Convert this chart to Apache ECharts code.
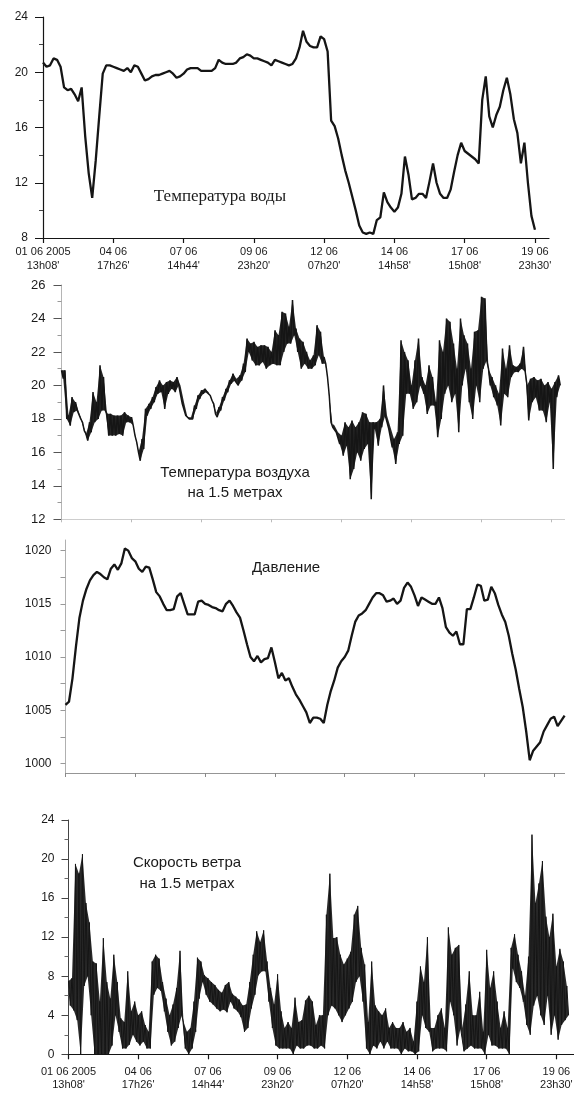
<!DOCTYPE html>
<html>
<head>
<meta charset="utf-8">
<script src="https://cdn.jsdelivr.net/npm/echarts@6/dist/echarts.min.js"></script>
<style>
html,body{margin:0;padding:0;background:#fff;}
#chart{width:574px;height:1093px;}
</style>
</head>
<body>
<div id="chart"></div>
<script>
// ---- tick labels (x axis positions 0..7) ----
const xTickLabels = ["01 06 2005\n13h08'", "04 06\n17h26'", "07 06\n14h44'", "09 06\n23h20'", "12 06\n07h20'", "14 06\n14h58'", "17 06\n15h08'", "19 06\n23h30'"];
const xTickValues = [0, 1, 2, 3, 4, 5, 6, 7];

// ---- series values, sampled every 0.05 tick-interval ----
const step = 0.05;
const waterTemp = [
20.7,20.4,20.5,21.0,20.9,20.4,18.9,18.7,18.8,18.4,
17.9,18.9,15.4,12.7,10.9,13.6,16.8,19.9,20.5,20.5,
20.4,20.3,20.2,20.1,20.3,20.0,20.5,20.4,19.9,19.4,
19.5,19.7,19.8,19.8,19.9,20.0,20.1,19.9,19.6,19.7,
19.9,20.2,20.3,20.3,20.3,20.1,20.1,20.1,20.1,20.3,
20.9,20.7,20.6,20.6,20.6,20.7,21.0,21.1,21.3,21.2,
21.0,21.0,20.9,20.8,20.7,20.5,20.9,20.8,20.7,20.6,
20.5,20.6,21.0,21.8,23.0,22.2,21.9,21.8,21.8,22.6,
22.4,21.5,16.5,16.1,15.2,14.0,12.9,12.0,11.0,10.0,
8.9,8.4,8.3,8.4,8.3,9.3,9.5,11.3,10.6,10.2,
9.9,10.2,11.2,13.9,12.6,10.8,10.9,11.2,11.2,10.9,
12.1,13.4,12.0,11.2,10.9,10.9,11.5,12.8,14.0,14.9,
14.3,14.1,13.9,13.7,13.4,18.0,19.7,16.8,16.0,16.9,
17.5,18.7,19.6,18.4,16.6,15.6,13.4,14.9,12.0,9.6,
8.6
];
// air temperature: upper and lower readings of the noisy trace at each step
const airHigh = [
20.9,20.9,18.2,19.3,19.0,18.4,17.8,17.1,17.8,19.6,
19.0,21.2,20.5,18.3,18.3,18.2,18.2,18.2,18.4,18.2,
18.1,17.0,16.0,16.8,18.6,18.9,19.3,19.9,20.3,20.0,
20.2,20.3,20.2,20.5,20.0,19.0,18.1,18.1,18.8,19.4,
19.7,19.8,19.6,19.1,18.3,18.7,19.3,19.8,20.3,20.7,
20.4,20.6,21.3,22.8,22.5,22.6,22.3,22.4,22.4,22.3,
22.0,23.3,23.0,24.4,24.3,23.5,25.1,23.4,22.8,22.6,
22.0,21.5,21.8,23.6,23.2,21.7,20.5,17.8,17.6,17.2,
17.0,17.8,17.5,17.9,17.5,17.8,18.4,18.3,17.8,17.8,
17.8,18.0,20.0,18.2,17.5,16.8,17.2,22.7,22.0,21.5,
20.0,21.5,22.8,20.5,20.0,21.2,20.5,19.0,22.7,22.0,
24.0,23.8,22.5,21.0,24.0,23.0,22.5,21.0,23.2,23.3,
25.3,25.2,21.0,20.5,20.0,19.5,22.2,21.0,22.4,21.2,
21.1,21.3,22.3,20.0,20.4,20.5,20.3,20.4,20.0,20.2,
19.8,20.2,20.6
];
const airLow = [
20.4,18.0,17.6,18.4,18.5,18.0,17.3,16.7,17.2,17.8,
18.0,18.5,18.5,17.0,17.0,17.0,17.1,17.0,17.8,17.8,
17.6,16.6,15.5,16.2,18.2,18.6,19.0,19.5,19.6,18.6,
19.5,19.8,19.6,20.0,18.9,18.2,18.0,18.0,18.6,19.2,
19.5,19.6,19.4,18.9,18.1,18.5,19.1,19.6,20.1,20.3,
20.0,20.3,20.8,22.0,21.5,21.2,21.2,21.4,21.0,21.2,
21.3,21.2,21.2,22.0,22.5,22.5,23.0,22.0,21.0,21.3,
21.0,21.0,21.2,21.8,21.3,21.3,19.4,17.5,17.2,16.5,
15.8,16.4,14.4,15.0,16.0,15.5,16.2,16.5,13.2,17.4,
16.4,17.5,18.2,17.4,16.3,15.3,16.5,17.0,19.5,19.5,
18.6,19.0,20.0,19.5,18.3,18.8,18.8,16.9,18.0,19.5,
20.0,19.0,19.5,17.2,20.0,21.0,19.0,18.0,20.0,19.0,
21.0,21.5,20.0,19.3,18.8,17.6,19.5,19.3,20.5,20.8,
20.8,21.0,20.8,17.9,19.0,19.3,18.5,18.5,17.8,19.0,
15.0,19.3,20.0
];
const pressure = [
1005.5,1005.8,1008.0,1011.0,1013.7,1015.3,1016.4,1017.2,1017.7,1018.0,
1017.8,1017.5,1017.3,1018.3,1018.7,1018.2,1018.8,1020.2,1020.0,1019.3,
1019.0,1018.3,1018.0,1018.5,1018.4,1017.3,1016.1,1015.7,1015.0,1014.4,
1014.4,1014.5,1015.7,1016.0,1015.0,1014.0,1014.0,1014.0,1015.2,1015.3,
1015.0,1014.9,1014.7,1014.6,1014.4,1014.3,1015.0,1015.3,1014.8,1014.2,
1013.7,1012.5,1011.2,1010.0,1009.6,1010.1,1009.5,1009.8,1009.9,1010.9,
1009.5,1008.0,1008.5,1007.8,1008.0,1007.2,1006.5,1006.0,1005.4,1004.8,
1003.8,1004.3,1004.3,1004.2,1003.8,1005.5,1006.8,1007.8,1009.0,1009.6,
1010.0,1010.6,1012.0,1013.3,1013.9,1014.1,1014.4,1015.0,1015.6,1016.0,
1016.0,1015.8,1015.2,1015.3,1015.5,1015.0,1015.3,1016.5,1017.0,1016.6,
1015.8,1014.8,1015.6,1015.4,1015.2,1015.0,1015.0,1015.6,1014.6,1012.8,
1012.3,1012.0,1012.4,1011.2,1011.2,1014.5,1014.5,1015.6,1016.8,1016.7,
1015.3,1015.4,1016.6,1016.0,1014.9,1014.0,1013.3,1012.0,1010.3,1008.8,
1007.0,1005.3,1003.0,1000.3,1001.2,1001.6,1002.0,1003.0,1003.6,1004.2,
1004.4,1003.5,1004.0,1004.5
];
// wind speed: upper and lower readings of the noisy trace at each step
const windHigh = [
7.5,7.8,19.5,18.5,20.5,15.5,13.5,9.5,9.3,5.4,
11.9,7.4,5.7,10.2,7.4,3.7,3.3,8.5,4.4,5.4,
4.0,4.4,3.0,2.3,9.5,10.2,9.8,7.4,5.7,4.0,
5.1,6.8,10.6,3.3,2.3,2.7,5.4,9.9,9.5,8.1,
7.8,7.4,7.1,6.6,6.3,7.1,7.4,6.2,5.9,5.6,
5.0,5.1,7.4,10.2,12.6,11.5,12.7,9.5,6.8,5.1,
8.2,4.4,2.7,3.3,2.7,5.8,3.3,3.5,5.5,6.0,
5.4,3.0,4.0,4.0,14.3,18.5,11.9,12.0,10.2,9.2,
9.8,10.5,14.3,15.2,10.9,9.2,3.3,9.5,5.0,4.4,
4.0,4.7,2.7,3.3,2.7,2.7,3.3,2.3,2.7,1.3,
5.4,9.0,7.4,12.0,2.7,2.7,4.0,4.7,2.7,13.0,
10.2,10.9,11.2,2.7,5.1,8.5,4.0,4.0,6.4,2.3,
10.7,6.8,8.5,5.4,2.7,4.4,2.7,10.9,12.3,10.2,
8.5,6.0,10.0,22.5,15.5,17.5,19.8,14.1,12.0,14.4,
9.0,10.8,9.5,7.0
];
const windLow = [
5.0,4.5,3.5,0.0,7.0,8.0,4.0,0.0,0.0,0.0,
0.0,0.0,0.9,4.0,2.3,0.6,0.6,1.0,2.0,1.3,
0.9,1.3,0.6,0.6,6.1,6.8,6.5,4.4,2.3,0.9,
1.3,2.7,4.0,0.6,0.0,0.6,2.3,5.7,7.4,6.1,
5.4,5.1,4.7,4.4,4.6,4.3,5.4,4.7,4.4,3.8,
2.3,2.7,4.7,6.1,8.1,8.5,8.5,5.4,2.7,0.9,
0.6,0.6,0.6,0.6,0.0,0.9,0.6,0.6,0.9,0.9,
0.6,0.6,0.9,0.6,4.0,5.0,4.7,4.0,3.3,4.0,
4.7,5.4,7.4,8.0,5.4,0.6,0.0,0.9,0.6,1.3,
0.6,1.3,0.6,0.6,0.6,0.0,0.6,0.3,0.3,0.0,
0.3,4.0,2.7,2.3,0.3,0.6,0.6,0.6,0.3,5.4,
4.0,0.9,2.7,0.3,0.6,0.9,0.6,0.6,0.6,0.0,
2.0,0.9,0.9,0.6,0.6,0.6,0.0,8.8,7.4,6.8,
5.4,3.0,2.0,5.0,6.0,4.0,3.0,6.0,2.0,4.0,
1.5,3.0,3.5,4.0
];

// ---- y-axis tick values ----
const pressureTicks = [1000, 1005, 1010, 1015, 1020];
const pressureMinorTicks = [1000, 1002.5, 1005, 1007.5, 1010, 1012.5, 1015, 1017.5, 1020];

// ---- titles ----
const titles = {
  water: "Температура воды",
  air: ["Температура воздуха", "на 1.5 метрах"],
  pressure: "Давление",
  wind: ["Скорость ветра", "на 1.5 метрах"]
};

const r4 = x => +x.toFixed(4);
function toXY(arr, st) { return arr.map((v, i) => [r4(i * st), v]); }
// zig-zag trace: high reading, then low reading half a step later
function zigzag(hi, lo, st) {
  const out = [];
  hi.forEach((h, i) => { out.push([r4(i * st), h]); out.push([r4(i * st + st / 2), lo[i]]); });
  return out;
}
// filled band between the high and low readings, placed through the axes' own scales
function bandSeries(hi, lo, st, xi, yi, fill, opacity) {
  return {
    type: 'custom', xAxisIndex: xi, yAxisIndex: yi, silent: true, z: 1,
    data: [[0, hi[0]]],
    renderItem: function (params, api) {
      const pts = [];
      for (let i = 0; i < hi.length; i++) pts.push(api.coord([r4(i * st), hi[i]]));
      for (let i = lo.length - 1; i >= 0; i--) pts.push(api.coord([r4(i * st + st / 2), lo[i]]));
      return { type: 'polygon', shape: { points: pts }, style: { fill: fill, opacity: opacity, stroke: null } };
    }
  };
}

const INK = '#151515';
const labelFont = { fontFamily: 'Liberation Sans, Arial, sans-serif', fontSize: 12, color: '#1a1a1a' };

function xAxisCfg(gridIndex, max, opts) {
  return Object.assign({
    type: 'value', gridIndex: gridIndex, min: 0, max: max,
    splitLine: { show: false },
    axisLine: { show: true, onZero: false, lineStyle: { color: INK, width: 1.2 } },
    axisTick: { show: true, length: 5, customValues: xTickValues, lineStyle: { color: INK, width: 1.2 } },
    axisLabel: Object.assign({ show: true, customValues: xTickValues, margin: 7, lineHeight: 14,
      formatter: v => xTickLabels[Math.round(v)] }, labelFont, { fontSize: 11 })
  }, opts || {});
}

const option = {
  animation: false,
  backgroundColor: '#ffffff',
  grid: [
    { left: 43, top: 17, width: 506, height: 221, containLabel: false, outerBoundsMode: 'none' },
    { left: 61.5, top: 285, width: 504, height: 234.3, containLabel: false, outerBoundsMode: 'none' },
    { left: 65.5, top: 540, width: 499.8, height: 233, containLabel: false, outerBoundsMode: 'none' },
    { left: 68.5, top: 820, width: 505.3, height: 234.3, containLabel: false, outerBoundsMode: 'none' }
  ],
  xAxis: [
    xAxisCfg(0, 7.2),
    xAxisCfg(1, 7.2, {
      axisLine: { show: true, onZero: false, lineStyle: { color: '#c8c8c8', width: 1, type: 'dotted' } },
      axisTick: { show: true, length: 3, customValues: xTickValues, lineStyle: { color: '#bbb' } },
      axisLabel: { show: false }
    }),
    xAxisCfg(2, 7.16, {
      axisLine: { show: true, onZero: false, lineStyle: { color: '#8a8a8a', width: 1, type: 'dotted' } },
      axisTick: { show: true, length: 4, customValues: xTickValues, lineStyle: { color: '#888' } },
      axisLabel: { show: false }
    }),
    xAxisCfg(3, 7.25, { axisLabel: Object.assign({ show: true, customValues: xTickValues, margin: 11, lineHeight: 13,
      formatter: v => xTickLabels[Math.round(v)] }, labelFont, { fontSize: 11 }) })
  ],
  yAxis: [
    { type: 'value', gridIndex: 0, min: 8, max: 24, interval: 4,
      splitLine: { show: false },
      axisLine: { show: true, lineStyle: { color: INK, width: 1.2 } },
      axisTick: { show: true, length: 8, lineStyle: { color: INK } },
      minorTick: { show: true, splitNumber: 2, length: 4, lineStyle: { color: '#444' } },
      axisLabel: Object.assign({ margin: 15 }, labelFont) },
    { type: 'value', gridIndex: 1, min: 12, max: 26, interval: 2,
      splitLine: { show: false },
      axisLine: { show: true, lineStyle: { color: '#b5b5b5', width: 1 } },
      axisTick: { show: true, length: 8, lineStyle: { color: '#555' } },
      minorTick: { show: true, splitNumber: 2, length: 4, lineStyle: { color: '#999' } },
      axisLabel: Object.assign({ margin: 16 }, labelFont, { fontSize: 13 }) },
    { type: 'value', gridIndex: 2, min: 999.1, max: 1021,
      splitLine: { show: false },
      axisLine: { show: true, lineStyle: { color: '#b0b0b0', width: 1 } },
      axisTick: { show: true, length: 5, customValues: pressureMinorTicks, lineStyle: { color: '#999' } },
      axisLabel: Object.assign({ margin: 14, customValues: pressureTicks, formatter: v => String(Math.round(v)) }, labelFont) },
    { type: 'value', gridIndex: 3, min: 0, max: 24, interval: 4,
      splitLine: { show: false },
      axisLine: { show: true, lineStyle: { color: '#444', width: 1 } },
      axisTick: { show: true, length: 7, lineStyle: { color: '#444' } },
      minorTick: { show: true, splitNumber: 2, length: 4, lineStyle: { color: '#666' } },
      axisLabel: Object.assign({ margin: 14 }, labelFont) }
  ],
  series: [
    { type: 'line', xAxisIndex: 0, yAxisIndex: 0, data: toXY(waterTemp, step), showSymbol: false,
      lineStyle: { color: INK, width: 2.3 }, emphasis: { disabled: true } },
    bandSeries(airHigh, airLow, step, 1, 1, '#121212', 0.92),
    { type: 'line', xAxisIndex: 1, yAxisIndex: 1, data: zigzag(airHigh, airLow, step), showSymbol: false, z: 2,
      lineStyle: { color: INK, width: 1.5 }, emphasis: { disabled: true } },
    { type: 'line', xAxisIndex: 2, yAxisIndex: 2, data: toXY(pressure, step), showSymbol: false, clip: false,
      lineStyle: { color: INK, width: 2.3 }, emphasis: { disabled: true } },
    bandSeries(windHigh, windLow, step, 3, 3, '#121212', 0.9),
    { type: 'line', xAxisIndex: 3, yAxisIndex: 3, data: zigzag(windHigh, windLow, step), showSymbol: false, z: 2,
      lineStyle: { color: INK, width: 1 }, emphasis: { disabled: true } }
  ],
  graphic: [
    { type: 'text', x: 220, y: 197, style: { text: titles.water, fontFamily: 'Liberation Serif, Times New Roman, serif', fontSize: 17, fill: '#1a1a1a', align: 'center', verticalAlign: 'middle' } },
    { type: 'text', x: 235, y: 473, style: { text: titles.air[0], fontFamily: 'Liberation Sans, Arial, sans-serif', fontSize: 15, fill: '#1a1a1a', align: 'center', verticalAlign: 'middle' } },
    { type: 'text', x: 235, y: 493, style: { text: titles.air[1], fontFamily: 'Liberation Sans, Arial, sans-serif', fontSize: 15, fill: '#1a1a1a', align: 'center', verticalAlign: 'middle' } },
    { type: 'text', x: 286, y: 568, style: { text: titles.pressure, fontFamily: 'Liberation Sans, Arial, sans-serif', fontSize: 15, fill: '#1a1a1a', align: 'center', verticalAlign: 'middle' } },
    { type: 'text', x: 187, y: 863, style: { text: titles.wind[0], fontFamily: 'Liberation Sans, Arial, sans-serif', fontSize: 15, fill: '#1a1a1a', align: 'center', verticalAlign: 'middle' } },
    { type: 'text', x: 187, y: 884, style: { text: titles.wind[1], fontFamily: 'Liberation Sans, Arial, sans-serif', fontSize: 15, fill: '#1a1a1a', align: 'center', verticalAlign: 'middle' } }
  ]
};

const chart = echarts.init(document.getElementById('chart'), null, { renderer: 'canvas', width: 574, height: 1093 });
chart.setOption(option);
</script>
</body>
</html>
